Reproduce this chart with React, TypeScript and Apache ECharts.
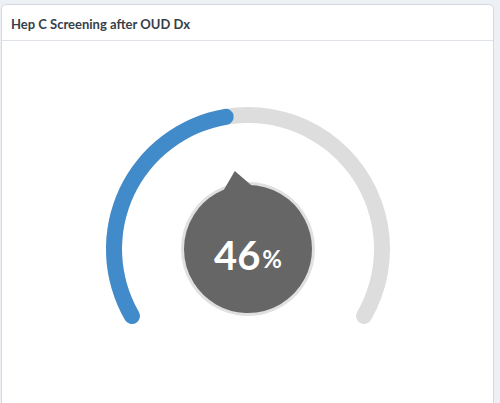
import React, { useEffect, useRef } from "react";
import * as echarts from "echarts";

const titleText = "Hep C Screening after OUD Dx";
const gaugeName = ["Hep C Screening"];
const gaugeValues = [46];
const gaugeMin = 0;
const gaugeMax = 100;
const unitLabel = "%";

export default function App() {
  const ref = useRef<HTMLDivElement>(null);

  useEffect(() => {
    document.body.style.margin = "0";
    if (!ref.current) return;
    const chart = echarts.init(ref.current, null, { renderer: "svg" });
    const common = {
      type: "gauge",
      center: [248, 249],
      radius: 142,
      startAngle: 210,
      endAngle: -30,
      min: gaugeMin,
      max: gaugeMax,
      animation: false,
      splitLine: { show: false },
      axisTick: { show: false },
      axisLabel: { show: false },
      title: { show: false },
      data: gaugeValues.map((v, i) => ({ value: v, name: gaugeName[i] })),
    };
    chart.setOption({
      animation: false,
      title: {
        text: titleText,
        left: 11,
        top: 17,
        padding: 0,
        textStyle: {
          fontFamily: "Lato",
          fontWeight: "bold",
          fontSize: 13,
          color: "#373e48",
        },
      },
      series: [
        {
          ...common,
          name: gaugeName[0],
          z: 2,
          axisLine: {
            roundCap: true,
            lineStyle: { width: 16, color: [[1, "#dddddd"]] },
          },
          progress: {
            show: true,
            width: 16,
            roundCap: true,
            itemStyle: { color: "#428bca" },
          },
          pointer: {
            show: true,
            icon: "path://M20,0 L40,24 L0,24 Z",
            width: 40,
            length: 24,
            offsetCenter: [0, -55],
            itemStyle: { color: "#666666" },
          },
          anchor: {
            show: true,
            showAbove: false,
            size: 131,
            icon: "circle",
            itemStyle: {
              color: "#666666",
              borderColor: "#e0e0e0",
              borderWidth: 3,
            },
          },
          detail: { show: false },
        },
        {
          ...common,
          name: gaugeName[0] + " label",
          z: 6,
          axisLine: { show: false },
          progress: { show: false },
          pointer: { show: false },
          anchor: { show: false },
          detail: {
            show: true,
            offsetCenter: [0, 6],
            formatter: "{a|{value}}{b|" + unitLabel + "}",
            rich: {
              a: {
                fontFamily: "Lato",
                fontWeight: "bold",
                fontSize: 40,
                color: "#ffffff",
              },
              b: {
                fontFamily: "Lato",
                fontSize: 24,
                color: "#ffffff",
                padding: [6, 0, 0, 2],
              },
            },
          },
        },
      ],
    });
    return () => chart.dispose();
  }, []);

  return (
    <div
      style={{
        position: "fixed",
        left: 0,
        top: 0,
        width: 500,
        height: 403,
        background: "#edf0f4",
        overflow: "hidden",
      }}
    >
      <div
        style={{
          position: "absolute",
          left: 1,
          top: 4,
          width: 493,
          height: 440,
          boxSizing: "border-box",
          border: "1px solid #d3d9e1",
          borderRadius: 5,
          background: "#ffffff",
        }}
      />
      <div
        style={{
          position: "absolute",
          left: 2,
          top: 40,
          width: 491,
          height: 1,
          background: "#dfe3e9",
        }}
      />
      <div
        ref={ref}
        style={{ position: "absolute", left: 0, top: 0, width: 500, height: 403 }}
      />
    </div>
  );
}
